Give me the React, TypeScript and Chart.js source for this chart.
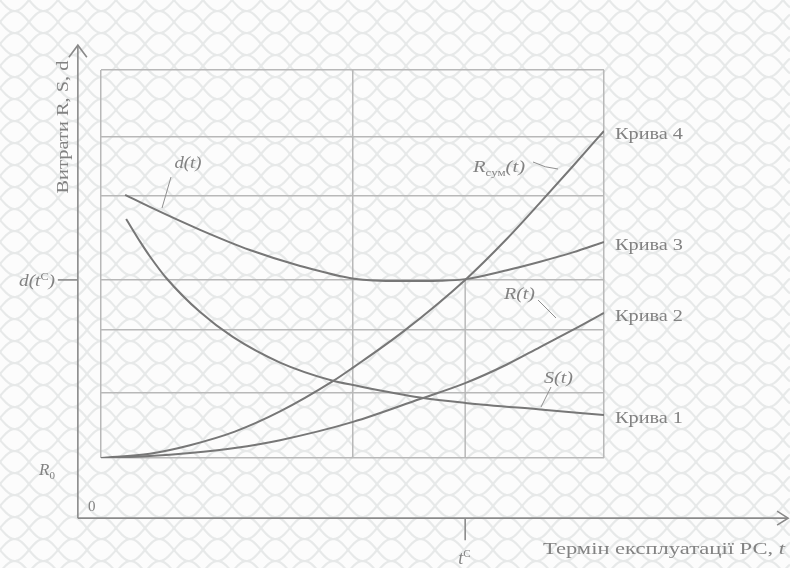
import React, { useEffect, useRef } from "react";
import { Chart, registerables } from "chart.js";

Chart.register(...registerables);

// ---- data (arbitrary units of the schematic) ----
const T_D = [0.48, 0.97, 1.97, 2.96, 3.96, 5.03, 5.94, 6.74, 7.24, 8.07, 8.73, 9.38, 10];
const D_VALUES = [6.78, 6.47, 5.88, 5.36, 4.95, 4.62, 4.56, 4.57, 4.61, 4.84, 5.06, 5.3, 5.57];

const T_S = [0.5, 0.78, 0.97, 1.31, 1.97, 2.62, 3.56, 4.61, 5.01, 6.34, 7.24, 8.73, 10];
const S_VALUES = [6.16, 5.57, 5.2, 4.62, 3.76, 3.12, 2.46, 1.99, 1.88, 1.56, 1.42, 1.25, 1.11];

const T_R = [0, 0.97, 1.77, 2.66, 3.56, 5.01, 6.34, 7.24, 8.07, 8.73, 9.38, 10];
const R_VALUES = [0, 0.05, 0.13, 0.26, 0.46, 0.93, 1.52, 1.93, 2.41, 2.86, 3.3, 3.74];

const T_RS = [0, 0.97, 1.77, 2.66, 3.56, 4.61, 5.01, 6.0, 7.24, 8.07, 8.73, 9.38, 10];
const RS_VALUES = [0, 0.11, 0.33, 0.68, 1.2, 1.98, 2.33, 3.25, 4.59, 5.65, 6.58, 7.52, 8.43];

const GRID_Y = [0, 1.68, 3.3, 4.59, 6.75, 8.28, 10];
const GRID_X = [0, 5.01, 10];
const T_C = 7.24;
const D_TC = 4.59;

const CURVE_LABELS = ["Крива 4", "Крива 3", "Крива 2", "Крива 1"];
const Y_TITLE = "Витрати R, S, d";
const X_TITLE = "Термін експлуатації РС, ";

// outer axes extents in data units
const AXIS_X_MIN = -0.46;
const AXIS_X_MAX = 13.66;
const AXIS_Y_MIN = -1.55;
const AXIS_Y_MAX = 10.64;

const pts = (xs: number[], ys: number[]) => xs.map((x, i) => ({ x, y: ys[i] }));

const FONT = '"Liberation Serif", "DejaVu Serif", serif';
const TEXT_COLOR = "#828282";
const LINE_COLOR = "#777777";
const GRID_COLOR = "#b8b8b8";

type Part = { t: string; italic?: boolean; sub?: boolean; sup?: boolean };

function drawRich(
  ctx: CanvasRenderingContext2D,
  parts: Part[],
  x: number,
  y: number,
  size: number,
  align: "left" | "center" = "left",
  targetWidth = 0
) {
  const fontFor = (p: Part) => `${p.italic ? "italic " : ""}${p.sub || p.sup ? Math.round(size * 0.62) : size}px ${FONT}`;
  let total = 0;
  for (const p of parts) {
    ctx.font = fontFor(p);
    total += ctx.measureText(p.t).width;
  }
  const sx = targetWidth > 0 ? targetWidth / total : 1;
  ctx.save();
  const startX = align === "center" ? x - (total * sx) / 2 : x;
  ctx.translate(startX, y);
  ctx.scale(sx, 1);
  ctx.textBaseline = "alphabetic";
  ctx.textAlign = "left";
  let cx = 0;
  for (const p of parts) {
    ctx.font = fontFor(p);
    const dy = p.sub ? size * 0.25 : p.sup ? -size * 0.4 : 0;
    ctx.fillText(p.t, cx, dy);
    cx += ctx.measureText(p.t).width;
  }
  ctx.restore();
}

const backgroundPlugin = {
  id: "bgPattern",
  beforeDraw(chart: any) {
    const { ctx, width, height } = chart;
    ctx.save();
    ctx.fillStyle = "#fcfcfc";
    ctx.fillRect(0, 0, width, height);
    ctx.strokeStyle = "#e7e9e9";
    ctx.lineWidth = 2.2;
    const P = 58;
    const A = 11;
    const H = 22;
    for (let row = -1; row * H < height + H; row++) {
      const y0 = row * H;
      const phase = row % 2 === 0 ? 0 : P / 2;
      for (const sgn of [1, -1]) {
        ctx.beginPath();
        for (let x = 0; x <= width; x += 2) {
          const y = y0 + sgn * A * Math.sin((2 * Math.PI * (x + phase)) / P);
          if (x === 0) ctx.moveTo(x, y);
          else ctx.lineTo(x, y);
        }
        ctx.stroke();
      }
    }
    ctx.restore();
  },
};

const overlayPlugin = {
  id: "overlay",
  beforeDatasetsDraw(chart: any) {
    const { ctx } = chart;
    const xs = chart.scales.x;
    const ys = chart.scales.y;
    ctx.save();
    ctx.strokeStyle = GRID_COLOR;
    ctx.lineWidth = 1.5;
    const px = xs.getPixelForValue(T_C);
    ctx.beginPath();
    ctx.moveTo(px, ys.getPixelForValue(0));
    ctx.lineTo(px, ys.getPixelForValue(D_TC));
    ctx.stroke();
    ctx.restore();
  },
  afterDraw(chart: any) {
    const { ctx } = chart;
    const xs = chart.scales.x;
    const ys = chart.scales.y;
    const ox = xs.getPixelForValue(AXIS_X_MIN);
    const oy = ys.getPixelForValue(AXIS_Y_MIN);
    const xEnd = xs.getPixelForValue(AXIS_X_MAX);
    const yTop = ys.getPixelForValue(AXIS_Y_MAX);
    ctx.save();
    ctx.strokeStyle = "#8a8a8a";
    ctx.lineWidth = 1.6;
    // axes
    ctx.beginPath();
    ctx.moveTo(ox, oy);
    ctx.lineTo(ox, yTop);
    ctx.moveTo(ox, oy);
    ctx.lineTo(xEnd, oy);
    ctx.stroke();
    // arrows
    ctx.beginPath();
    ctx.moveTo(ox - 9, yTop + 12);
    ctx.lineTo(ox, yTop);
    ctx.lineTo(ox + 9, yTop + 12);
    ctx.moveTo(xEnd - 11, oy - 7);
    ctx.lineTo(xEnd, oy);
    ctx.lineTo(xEnd - 11, oy + 7);
    ctx.stroke();
    // d(tC) tick on y axis
    const dy = ys.getPixelForValue(D_TC);
    ctx.beginPath();
    ctx.moveTo(ox - 20, dy);
    ctx.lineTo(ox, dy);
    ctx.stroke();
    // tC tick on x axis
    const tcx = xs.getPixelForValue(T_C);
    ctx.beginPath();
    ctx.moveTo(tcx, oy);
    ctx.lineTo(tcx, oy + 22);
    ctx.stroke();

    ctx.fillStyle = TEXT_COLOR;
    // curve labels at right ends
    const ends = [RS_VALUES, D_VALUES, R_VALUES, S_VALUES].map((a) => a[a.length - 1]);
    const lx = xs.getPixelForValue(10) + 11;
    CURVE_LABELS.forEach((lab, i) => {
      drawRich(ctx, [{ t: lab }], lx, ys.getPixelForValue(ends[i]) + 8, 17, "left", 68);
    });

    // axis titles
    ctx.save();
    ctx.translate(ox - 10, 127);
    ctx.rotate(-Math.PI / 2);
    drawRich(ctx, [{ t: Y_TITLE }], 0, 0, 16, "center", 133);
    ctx.restore();

    drawRich(ctx, [{ t: X_TITLE }, { t: "t", italic: true }], 543, oy + 36, 16, "left", 242);

    // axis annotations
    drawRich(ctx, [{ t: "d(t", italic: true }, { t: "C", sup: true }, { t: ")", italic: true }], 19, dy + 6, 16, "left", 36);
    drawRich(ctx, [{ t: "R", italic: true }, { t: "0", sub: true }], 39, 475, 17);
    drawRich(ctx, [{ t: "0" }], 88, 511, 15);
    drawRich(ctx, [{ t: "t", italic: true }, { t: "C", sup: true }], tcx - 7, oy + 46, 18);

    // curve annotations
    drawRich(ctx, [{ t: "d(t)", italic: true }], 188, 168, 16, "center", 27);
    drawRich(ctx, [{ t: "R", italic: true }, { t: "сум", sub: true }, { t: "(t)", italic: true }], 473, 172, 16, "left", 52);
    drawRich(ctx, [{ t: "R(t)", italic: true }], 504, 299, 17, "left", 31);
    drawRich(ctx, [{ t: "S(t)", italic: true }], 544, 383, 17, "left", 29);

    // leader lines
    ctx.strokeStyle = "#8f8f8f";
    ctx.lineWidth = 1;
    ctx.beginPath();
    ctx.moveTo(171, 177);
    ctx.lineTo(162, 208);
    ctx.moveTo(533, 162);
    ctx.quadraticCurveTo(545, 168, 558, 169);
    ctx.moveTo(538, 300);
    ctx.lineTo(556, 318);
    ctx.moveTo(551, 387);
    ctx.lineTo(541, 407);
    ctx.stroke();
    ctx.restore();
  },
};

export default function App() {
  const ref = useRef<HTMLCanvasElement | null>(null);
  useEffect(() => {
    if (!ref.current) return;
    const ds = (data: { x: number; y: number }[]) => ({
      data,
      borderColor: LINE_COLOR,
      borderWidth: 2,
      pointRadius: 0,
      fill: false,
      cubicInterpolationMode: "monotone" as const,
    });
    const chart = new Chart(ref.current, {
      type: "line",
      data: {
        datasets: [
          ds(pts(T_D, D_VALUES)),
          ds(pts(T_S, S_VALUES)),
          ds(pts(T_R, R_VALUES)),
          ds(pts(T_RS, RS_VALUES)),
        ],
      },
      options: {
        animation: false,
        responsive: false,
        devicePixelRatio: 1,
        layout: { padding: { left: 101, top: 70, right: 186, bottom: 110 } },
        plugins: { legend: { display: false }, tooltip: { enabled: false } },
        events: [],
        scales: {
          x: {
            type: "linear",
            min: 0,
            max: 10,
            afterBuildTicks: (axis: any) => {
              axis.ticks = GRID_X.map((v) => ({ value: v }));
            },
            ticks: { display: false },
            grid: { color: GRID_COLOR, lineWidth: 1.5, drawTicks: false },
            border: { display: false },
          },
          y: {
            type: "linear",
            min: 0,
            max: 10,
            afterBuildTicks: (axis: any) => {
              axis.ticks = GRID_Y.map((v) => ({ value: v }));
            },
            ticks: { display: false },
            grid: { color: GRID_COLOR, lineWidth: 1.5, drawTicks: false },
            border: { display: false },
          },
        },
      },
      plugins: [backgroundPlugin, overlayPlugin],
    });
    return () => chart.destroy();
  }, []);
  return (
    <div style={{ position: "absolute", left: 0, top: 0, width: 790, height: 568 }}>
      <canvas ref={ref} width={790} height={568} />
    </div>
  );
}
